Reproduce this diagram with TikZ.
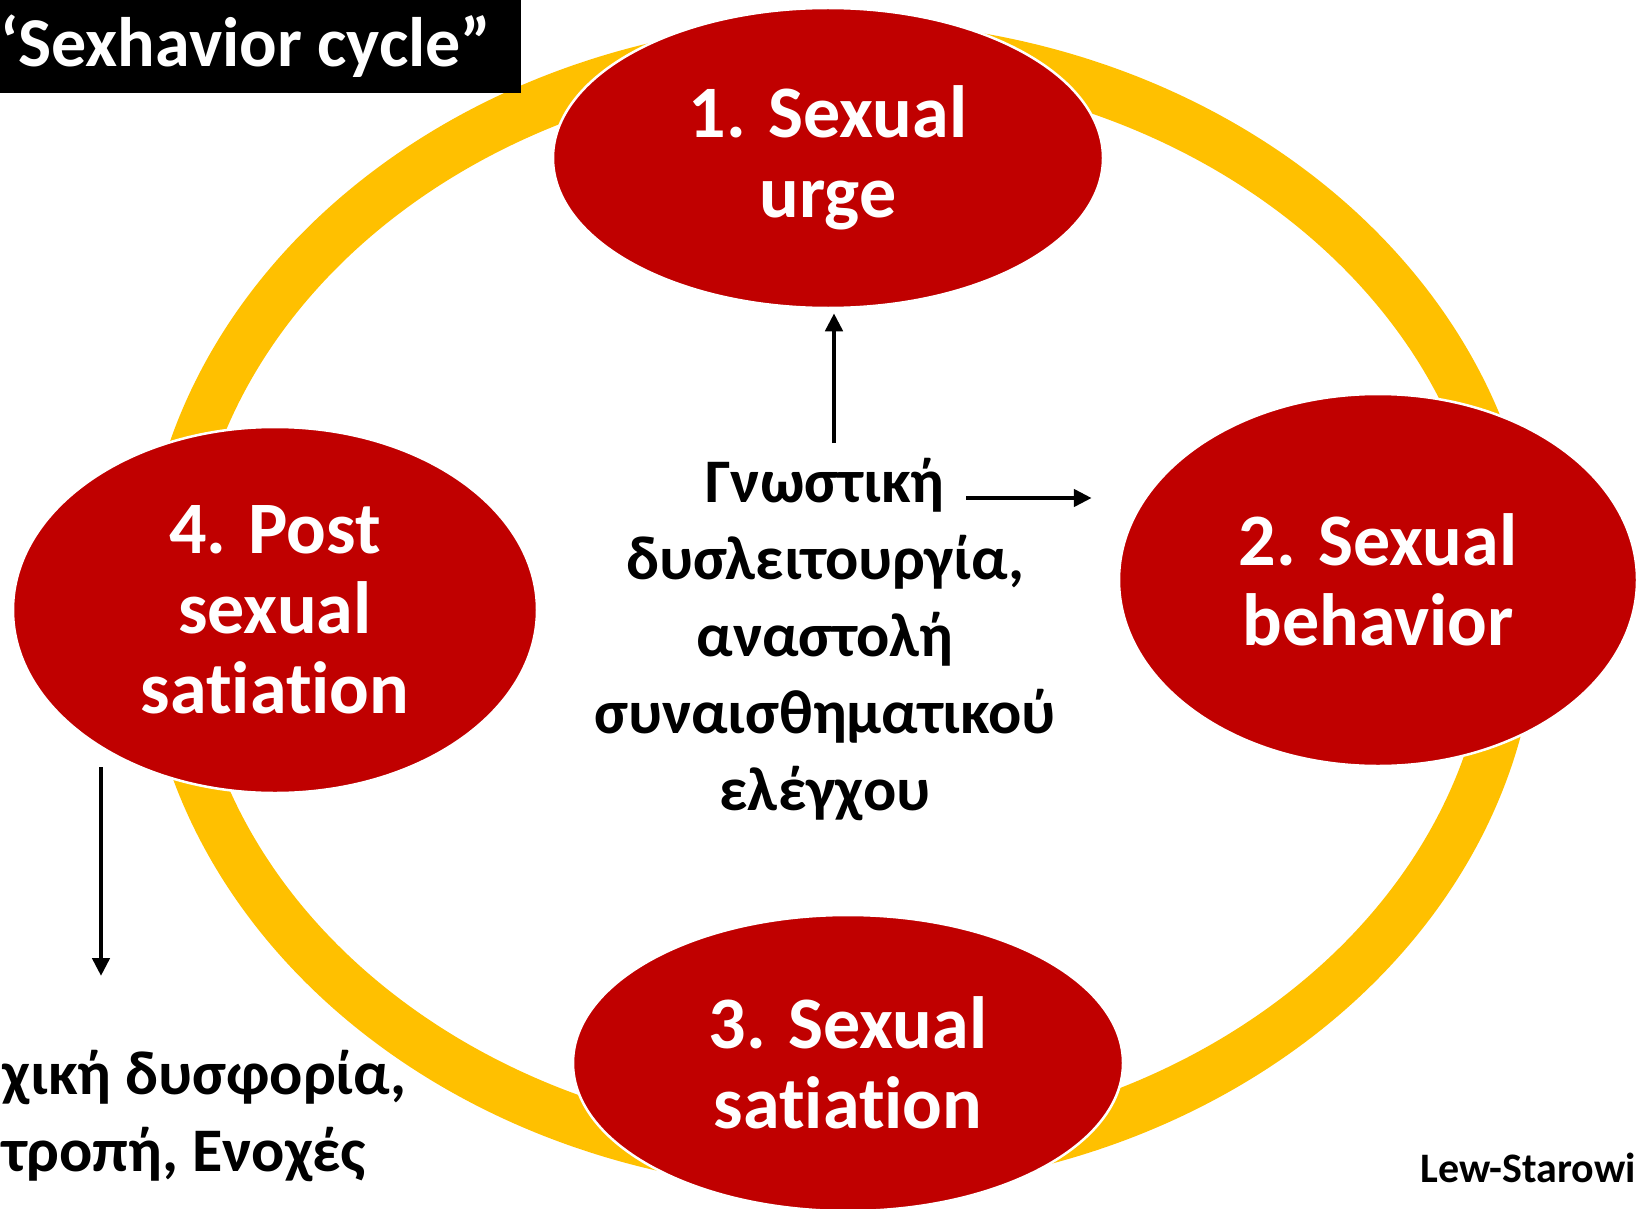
\documentclass[tikz,border=0pt]{standalone}
\usepackage{fontspec}
\setmainfont{Carlito}[Ligatures=NoCommon]
\usetikzlibrary{shapes.geometric, arrows.meta}
\definecolor{cycred}{HTML}{C00000}
\definecolor{ringyellow}{HTML}{FFC000}

\begin{document}
\begin{tikzpicture}[x=1pt, y=-1pt, thick,
  main/.style = {draw=white, line width=2.5pt, fill=cycred, ellipse, inner sep=0pt, text=white, align=center, font=\fontsize{74}{80}\selectfont\bfseries},
  note/.style = {align=center, font=\fontsize{62}{77}\selectfont\bfseries},
  arr/.style = {line width=4.5pt, -{Triangle[length=18pt, width=17pt]}}]
\useasboundingbox (0,0) rectangle (1637,1209);
% ring behind the stages
\fill[ringyellow, even odd rule] (840,606) ellipse [x radius=698pt, y radius=585pt] (840,606) ellipse [x radius=650pt, y radius=534pt];
\node[main, minimum width=550pt, minimum height=300pt] (1) at (828,158) {1. Sexual\\urge};
\node[main, minimum width=518pt, minimum height=372pt] (2) at (1378,580) {2. Sexual\\behavior};
\node[main, minimum width=550pt, minimum height=296pt] (3) at (848,1063) {3. Sexual\\satiation};
\node[main, minimum width=524pt, minimum height=366pt] (4) at (275,610) {4. Post\\sexual\\satiation};
% title
\fill[black] (0,0) rectangle (521,93);
\node[anchor=base west, inner sep=0pt, text=white, font=\fontsize{70}{80}\selectfont\bfseries] (t) at (0,67) {‘Sexhavior cycle”};
\node[note] (c) at (825,640) {Γνωστική\\δυσλειτουργία,\\αναστολή\\συναισθηματικού\\ελέγχου};
\node[note, align=left, anchor=north west, inner sep=0pt] (l) at (2,1050) {χική δυσφορία,\\τροπή, Ενοχές};
\node[anchor=base west, inner sep=0pt, font=\fontsize{42}{48}\selectfont\bfseries] (r) at (1420,1182) {Lew-Starowi};
% arrows
\coordinate (u) at (834,443);
\coordinate (h) at (966,498);
\coordinate (d) at (101,767);
\coordinate (d2) at (101,976);
\draw[arr, shorten >=4pt] (u) -- (u |- 1.south);
\draw[arr, shorten >=26pt] (h) -- (h -| 2.west);
\draw[arr] (d) -- (d2);
\end{tikzpicture}
\end{document}
